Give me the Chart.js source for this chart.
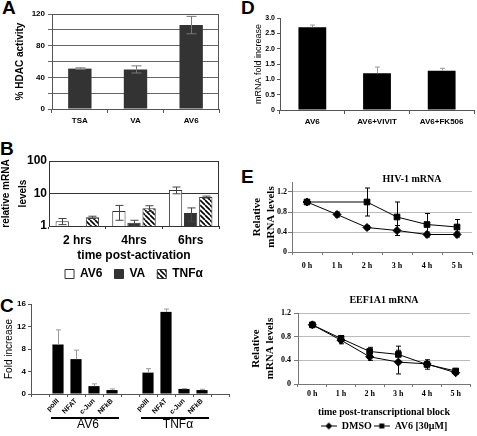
<!DOCTYPE html>
<html>
<head>
<meta charset="utf-8">
<script src="https://cdn.jsdelivr.net/npm/chart.js@4"></script>
<style>
  html, body { margin: 0; padding: 0; background: #fff; overflow: hidden; }
  body { width: 477px; height: 436px; position: relative; }
  canvas, .tag { position: absolute; }
  .tag { font: bold 19px Arial, "Liberation Sans", sans-serif; line-height: 19px; color: #000; }
</style>
</head>
<body>
<div class="tag" style="left:2px;top:-2px">A</div>
<div class="tag" style="left:0;top:139px">B</div>
<div class="tag" style="left:0;top:296px">C</div>
<div class="tag" style="left:241px;top:-2px">D</div>
<div class="tag" style="left:241px;top:167px">E</div>

<canvas id="chartA" width="226" height="132" style="left:0;top:0"></canvas>
<canvas id="chartB" width="226" height="150" style="left:0;top:140px"></canvas>
<canvas id="chartC" width="236" height="148" style="left:0;top:288px"></canvas>
<canvas id="chartD" width="237" height="132" style="left:240px;top:0"></canvas>
<canvas id="chartE1" width="237" height="115" style="left:240px;top:168px"></canvas>
<canvas id="chartE2" width="237" height="153" style="left:240px;top:288px"></canvas>

<script>
// A - HDAC activity
const hdacLabels = ['TSA', 'VA', 'AV6'];
const hdacValues = [51, 50, 106];
const hdacErrors = [1, 4.5, 11];

// B - relative mRNA levels (log scale)
const timeLabels = ['2 hrs', '4hrs', '6hrs'];
const av6Levels = [1.4, 2.9, 12.8];
const av6LevelErr = [0.3, 1.4, 3];
const vaLevels = [null, 1.25, 2.5];
const vaLevelErr = [null, 0.25, 1.1];
const tnfLevels = [1.85, 3.5, 7.8];
const tnfLevelErr = [0.15, 0.7, 0.5];

// C - fold increase per factor
const factorLabels = ['polII', 'NFAT', 'c-Jun', 'NFkB'];
const av6Fold = [8.8, 6.2, 1.4, 0.7];
const av6FoldErr = [2.6, 1.6, 0.4, 0.2];
const tnfFold = [3.8, 14.6, 0.9, 0.7];
const tnfFoldErr = [0.7, 0.5, 0.05, 0.15];

// D - inhibitors
const inhibLabels = ['AV6', 'AV6+VIVIT', 'AV6+FK506'];
const inhibValues = [2.7, 1.2, 1.28];
const inhibErrors = [0.07, 0.2, 0.08];

// E - mRNA decay
const hourLabels = ['0 h', '1 h', '2 h', '3 h', '4 h', '5 h'];
const hivDmso = [1, 0.75, 0.49, 0.43, 0.35, 0.35];
const hivDmsoErr = [0.02, 0.05, 0.04, 0.1, 0.05, 0.05];
const hivAv6 = [1, null, 1.0, 0.7, 0.55, 0.5];
const hivAv6Err = [0, null, 0.28, 0.3, 0.22, 0.15];
const eefDmso = [1, 0.74, 0.46, 0.37, 0.34, 0.19];
const eefDmsoErr = [0, 0.06, 0.06, 0.2, 0.04, 0.02];
const eefAv6 = [1, 0.77, 0.55, 0.5, 0.33, 0.22];
const eefAv6Err = [0, 0.05, 0.07, 0.14, 0.08, 0.03];

const SANS = 'Arial, "Liberation Sans", sans-serif';
const SERIF = '"Times New Roman", "Liberation Serif", serif';

Chart.defaults.color = '#000';
Chart.defaults.font.family = SANS;
Chart.defaults.animation = false;
Chart.defaults.responsive = false;
Chart.defaults.plugins.legend.display = false;
Chart.defaults.plugins.tooltip.enabled = false;

const fixWidth = w => scale => { scale.width = w; };
const fixHeight = h => scale => { scale.height = h; };

// error bars, positioned with the chart's own y scale
const errorBars = {
  id: 'errorBars',
  afterDatasetsDraw(chart, args, opts) {
    const ctx = chart.ctx;
    (opts.sets || []).forEach(set => {
      const meta = chart.getDatasetMeta(set.dataset);
      const yScale = chart.scales[meta.yAxisID];
      const values = chart.data.datasets[set.dataset].data;
      ctx.save();
      ctx.strokeStyle = set.color || '#000';
      ctx.lineWidth = 1;
      meta.data.forEach((el, i) => {
        const v = values[i], e = set.err[i];
        if (v == null || !e) return;
        const x = Math.round(el.x) + 0.5;
        const top = yScale.getPixelForValue(v + e);
        const bot = set.upOnly ? yScale.getPixelForValue(v) : yScale.getPixelForValue(v - e);
        const c = (set.cap || 6) / 2;
        ctx.beginPath();
        ctx.moveTo(x, top); ctx.lineTo(x, bot);
        ctx.moveTo(x - c, top); ctx.lineTo(x + c, top);
        if (!set.upOnly) { ctx.moveTo(x - c, bot); ctx.lineTo(x + c, bot); }
        ctx.stroke();
      });
      ctx.restore();
    });
  }
};

// right/top edge of the plot box
const frame = {
  id: 'frame',
  afterDraw(chart, args, opts) {
    const { left, right, top, bottom } = chart.chartArea;
    const ctx = chart.ctx;
    ctx.save();
    ctx.strokeStyle = opts.color || '#555';
    ctx.lineWidth = 1;
    ctx.beginPath();
    ctx.moveTo(left, top + 0.5); ctx.lineTo(right - 0.5, top + 0.5); ctx.lineTo(right - 0.5, bottom);
    ctx.stroke();
    ctx.restore();
  }
};

// underlines with group names under the category axis (panel C)
const groupLines = {
  id: 'groupLines',
  afterDraw(chart, args, opts) {
    const x = chart.scales.x, ctx = chart.ctx;
    const half = (x.getPixelForValue(1) - x.getPixelForValue(0)) / 2;
    const base = chart.chartArea.bottom;
    ctx.save();
    opts.groups.forEach(g => {
      const x0 = x.getPixelForValue(g.from) - half + 2, x1 = x.getPixelForValue(g.to) + half - 2;
      ctx.strokeStyle = '#000'; ctx.lineWidth = 2;
      ctx.beginPath(); ctx.moveTo(x0, base + opts.lineY); ctx.lineTo(x1, base + opts.lineY); ctx.stroke();
      ctx.fillStyle = '#000'; ctx.font = opts.font;
      ctx.textAlign = 'center'; ctx.textBaseline = 'middle';
      ctx.fillText(g.text, (x0 + x1) / 2 + 3, base + opts.textY);
    });
    ctx.restore();
  }
};

// chart title placed off-centre above the plot (panel E, HIV-1)
const offsetTitle = {
  id: 'offsetTitle',
  afterDraw(chart, args, opts) {
    const { left, right, top } = chart.chartArea;
    const ctx = chart.ctx;
    ctx.save();
    ctx.font = opts.font; ctx.fillStyle = '#000';
    ctx.textAlign = 'center'; ctx.textBaseline = 'middle';
    ctx.fillText(opts.text, (left + right) / 2 + opts.dx, top + opts.dy);
    ctx.restore();
  }
};

function makeHatch(canvasId) {
  const c = document.createElement('canvas');
  c.width = c.height = 5;
  const g = c.getContext('2d');
  g.fillStyle = '#fff'; g.fillRect(0, 0, 5, 5);
  g.strokeStyle = '#000'; g.lineWidth = 1.6;
  g.beginPath();
  [-5, 0, 5].forEach(o => { g.moveTo(o, 0); g.lineTo(o + 5, 5); });
  g.stroke();
  return document.getElementById(canvasId).getContext('2d').createPattern(c, 'repeat');
}

function legendIcon(shape) {
  const c = document.createElement('canvas');
  c.width = 16; c.height = 9;
  const g = c.getContext('2d');
  g.strokeStyle = '#000'; g.fillStyle = '#000'; g.lineWidth = 1;
  g.beginPath(); g.moveTo(0, 4.5); g.lineTo(16, 4.5); g.stroke();
  g.beginPath();
  if (shape === 'diamond') {
    g.moveTo(8, 1); g.lineTo(11.5, 4.5); g.lineTo(8, 8); g.lineTo(4.5, 4.5);
  } else {
    g.rect(5.5, 2, 5, 5);
  }
  g.fill();
  return c;
}

// ---- A ----
new Chart(document.getElementById('chartA'), {
  type: 'bar',
  data: {
    labels: hdacLabels,
    datasets: [{ data: hdacValues, backgroundColor: '#333', barPercentage: 0.42, categoryPercentage: 1 }]
  },
  options: {
    layout: { padding: { top: 14, right: 7, left: 0, bottom: 0 } },
    scales: {
      x: {
        grid: { offset: true, drawOnChartArea: false, tickLength: 4, color: '#555' },
        border: { color: '#555' },
        ticks: { font: { size: 8, weight: 'bold' }, padding: 3 },
        afterFit: fixHeight(23)
      },
      y: {
        min: 0, max: 120,
        ticks: { stepSize: 20, font: { size: 8, weight: 'bold' }, padding: 3, callback: v => (v % 40 === 0 ? v : '') },
        grid: { color: '#666', tickLength: 4 },
        border: { color: '#555' },
        title: { display: true, text: '% HDAC activity', font: { size: 10, weight: 'bold' }, padding: { top: 14, bottom: 0 } },
        afterFit: fixWidth(52)
      }
    },
    plugins: {
      errorBars: { sets: [{ dataset: 0, err: hdacErrors, color: '#777', cap: 10 }] },
      frame: { color: '#555' }
    }
  },
  plugins: [errorBars, frame]
});

// ---- B ----
new Chart(document.getElementById('chartB'), {
  type: 'bar',
  data: {
    labels: timeLabels,
    datasets: [
      { label: 'AV6', data: av6Levels, backgroundColor: '#fff', borderColor: '#333', borderWidth: 1 },
      { label: 'VA', data: vaLevels, backgroundColor: '#333', borderColor: '#333', borderWidth: 1 },
      { label: 'TNFα', data: tnfLevels, backgroundColor: makeHatch('chartB'), borderColor: '#333', borderWidth: 1 }
    ]
  },
  options: {
    datasets: { bar: { barPercentage: 0.88, categoryPercentage: 0.8 } },
    layout: { padding: { top: 21, right: 7, left: 0, bottom: 0 } },
    scales: {
      x: {
        grid: { offset: true, drawOnChartArea: false, tickLength: 3, color: '#333' },
        border: { color: '#333' },
        ticks: { font: { size: 12, weight: 'bold' }, padding: 4 },
        title: { display: true, text: 'time post-activation', font: { size: 12, weight: 'bold' }, padding: { top: 0, bottom: -7 } },
        afterFit: fixHeight(30)
      },
      y: {
        type: 'logarithmic', min: 1, max: 100,
        afterBuildTicks: s => { s.ticks = [1, 10, 100].map(v => ({ value: v })); },
        ticks: { font: { size: 12, weight: 'bold' }, padding: 2, callback: v => String(v) },
        grid: { color: '#333', drawTicks: false },
        border: { color: '#333' },
        title: { display: true, text: ['relative mRNA', 'levels'], font: { size: 10, weight: 'bold', lineHeight: 1.65 }, padding: { top: -2, bottom: 0 } },
        afterFit: fixWidth(49)
      }
    },
    plugins: {
      legend: {
        display: true, position: 'bottom', fullSize: false,
        labels: { boxWidth: 9, boxHeight: 9, padding: 12, font: { size: 12, weight: 'bold' } }
      },
      errorBars: {
        sets: [
          { dataset: 0, err: av6LevelErr, color: '#444', cap: 8 },
          { dataset: 1, err: vaLevelErr, color: '#444', cap: 8 },
          { dataset: 2, err: tnfLevelErr, color: '#444', cap: 8 }
        ]
      },
      frame: { color: '#333' }
    }
  },
  plugins: [errorBars, frame]
});

// ---- C ----
const cLabels = ['', ...factorLabels, '', ...factorLabels, ''];
const cValues = [null, ...av6Fold, null, ...tnfFold, null];
const cErrors = [null, ...av6FoldErr, null, ...tnfFoldErr, null];

new Chart(document.getElementById('chartC'), {
  type: 'bar',
  data: {
    labels: cLabels,
    datasets: [{ data: cValues, backgroundColor: '#000', barPercentage: 0.62, categoryPercentage: 1 }]
  },
  options: {
    layout: { padding: { top: 16, right: 7, left: 0, bottom: 0 } },
    scales: {
      x: {
        grid: { offset: true, drawOnChartArea: false, tickLength: 3, color: '#555' },
        border: { color: '#555' },
        ticks: { font: { size: 7, weight: 'bold' }, minRotation: 45, maxRotation: 45, padding: 0, autoSkip: false },
        afterFit: fixHeight(42)
      },
      y: {
        min: 0, max: 16,
        ticks: { stepSize: 2, font: { size: 8, weight: 'bold' }, padding: 2 },
        grid: { drawOnChartArea: false, tickLength: 3, color: '#555' },
        border: { color: '#555' },
        title: { display: true, text: 'Fold increase', font: { size: 10 }, padding: { top: 3, bottom: 0 } },
        afterFit: fixWidth(31)
      }
    },
    plugins: {
      errorBars: { sets: [{ dataset: 0, err: cErrors, color: '#999', cap: 5, upOnly: true }] },
      groupLines: {
        groups: [{ from: 1, to: 4, text: 'AV6' }, { from: 6, to: 9, text: 'TNFα' }],
        lineY: 24, textY: 31, font: '12px ' + SANS
      }
    }
  },
  plugins: [errorBars, groupLines]
});

// ---- D ----
new Chart(document.getElementById('chartD'), {
  type: 'bar',
  data: {
    labels: inhibLabels,
    datasets: [{ data: inhibValues, backgroundColor: '#000', barPercentage: 0.43, categoryPercentage: 1 }]
  },
  options: {
    layout: { padding: { top: 18, right: 3, left: 0, bottom: 0 } },
    scales: {
      x: {
        grid: { offset: true, drawOnChartArea: false, tickLength: 4, color: '#555' },
        border: { color: '#555' },
        ticks: { font: { size: 8, weight: 'bold' }, padding: 3 },
        afterFit: fixHeight(22)
      },
      y: {
        min: 0, max: 3,
        ticks: { stepSize: 0.5, font: { size: 7, weight: 'bold' }, padding: 2 },
        grid: { drawOnChartArea: false, tickLength: 3, color: '#555' },
        border: { color: '#555' },
        title: { display: true, text: 'mRNA fold increase', font: { size: 9 }, padding: { top: 13, bottom: 0 } },
        afterFit: fixWidth(40)
      }
    },
    plugins: {
      errorBars: { sets: [{ dataset: 0, err: inhibErrors, color: '#999', cap: 5, upOnly: true }] }
    }
  },
  plugins: [errorBars]
});

// ---- E (shared line styles) ----
const lineSets = (dmso, av6) => [
  { label: 'DMSO', data: dmso, borderColor: '#000', backgroundColor: '#000', borderWidth: 1, pointStyle: 'rectRot', pointRadius: 4, tension: 0 },
  { label: 'AV6 [30μM]', data: av6, borderColor: '#000', backgroundColor: '#000', borderWidth: 1, pointStyle: 'rect', pointRadius: 4, tension: 0, spanGaps: true }
];
const decimal = v => String(Math.round(v * 10) / 10);

new Chart(document.getElementById('chartE1'), {
  type: 'line',
  data: { labels: hourLabels, datasets: lineSets(hivDmso, hivAv6) },
  options: {
    layout: { padding: { top: 14, right: 5, left: 0, bottom: 0 } },
    scales: {
      x: {
        offset: true,
        grid: { offset: true, drawOnChartArea: false, tickLength: 3, color: '#777' },
        border: { color: '#777' },
        ticks: { font: { family: SERIF, size: 8, weight: 'bold' }, padding: 6 },
        afterFit: fixHeight(31)
      },
      y: {
        min: 0, max: 1.4,
        ticks: { stepSize: 0.2, font: { family: SERIF, size: 8, weight: 'bold' }, padding: 1, callback: v => (v > 1.3 ? '' : decimal(v)) },
        grid: { color: '#bbb', tickLength: 4, tickColor: '#777' },
        border: { color: '#777' },
        title: { display: true, text: ['Relative', 'mRNA levels'], font: { family: SERIF, size: 11, weight: 'bold', lineHeight: 1.2 }, padding: { top: 11, bottom: 0 } },
        afterFit: fixWidth(52)
      }
    },
    plugins: {
      errorBars: {
        sets: [
          { dataset: 0, err: hivDmsoErr, color: '#000', cap: 5 },
          { dataset: 1, err: hivAv6Err, color: '#000', cap: 5 }
        ]
      },
      offsetTitle: { text: 'HIV-1 mRNA', dx: 30, dy: -3, font: 'bold 10px ' + SERIF }
    }
  },
  plugins: [errorBars, offsetTitle]
});

const legendIcons = [legendIcon('diamond'), legendIcon('square')];
new Chart(document.getElementById('chartE2'), {
  type: 'line',
  data: { labels: hourLabels, datasets: lineSets(eefDmso, eefAv6) },
  options: {
    layout: { padding: { top: 0, right: 7, left: 0, bottom: 0 } },
    scales: {
      x: {
        offset: true,
        grid: { offset: true, drawOnChartArea: false, tickLength: 3, color: '#777' },
        border: { color: '#777' },
        ticks: { font: { family: SERIF, size: 8, weight: 'bold' }, padding: 2 },
        title: { display: true, text: 'time post-transcriptional block', font: { family: SERIF, size: 10, weight: 'bold' }, padding: { top: 0, bottom: 1 } },
        afterFit: fixHeight(35)
      },
      y: {
        min: 0, max: 1.2,
        ticks: { stepSize: 0.2, font: { family: SERIF, size: 8, weight: 'bold' }, padding: 3, callback: v => decimal(v) },
        grid: { color: '#bbb', tickLength: 4, tickColor: '#777' },
        border: { color: '#777' },
        title: { display: true, text: ['Relative', 'mRNA levels'], font: { family: SERIF, size: 11, weight: 'bold', lineHeight: 1.2 }, padding: { top: 10, bottom: 0 } },
        afterFit: fixWidth(58)
      }
    },
    plugins: {
      title: {
        display: true, text: 'EEF1A1 mRNA', fullSize: false,
        font: { family: SERIF, size: 10, weight: 'bold', lineHeight: 1 },
        padding: { top: 7, bottom: 8 }
      },
      legend: {
        display: true, position: 'bottom', fullSize: false,
        labels: {
          usePointStyle: true, pointStyleWidth: 16, padding: 2,
          font: { family: SERIF, size: 10, weight: 'bold' },
          generateLabels: chart => Chart.defaults.plugins.legend.labels.generateLabels(chart)
            .map((item, i) => Object.assign(item, { pointStyle: legendIcons[i] }))
        }
      },
      errorBars: {
        sets: [
          { dataset: 0, err: eefDmsoErr, color: '#000', cap: 5 },
          { dataset: 1, err: eefAv6Err, color: '#000', cap: 5 }
        ]
      }
    }
  },
  plugins: [errorBars]
});
</script>
</body>
</html>
